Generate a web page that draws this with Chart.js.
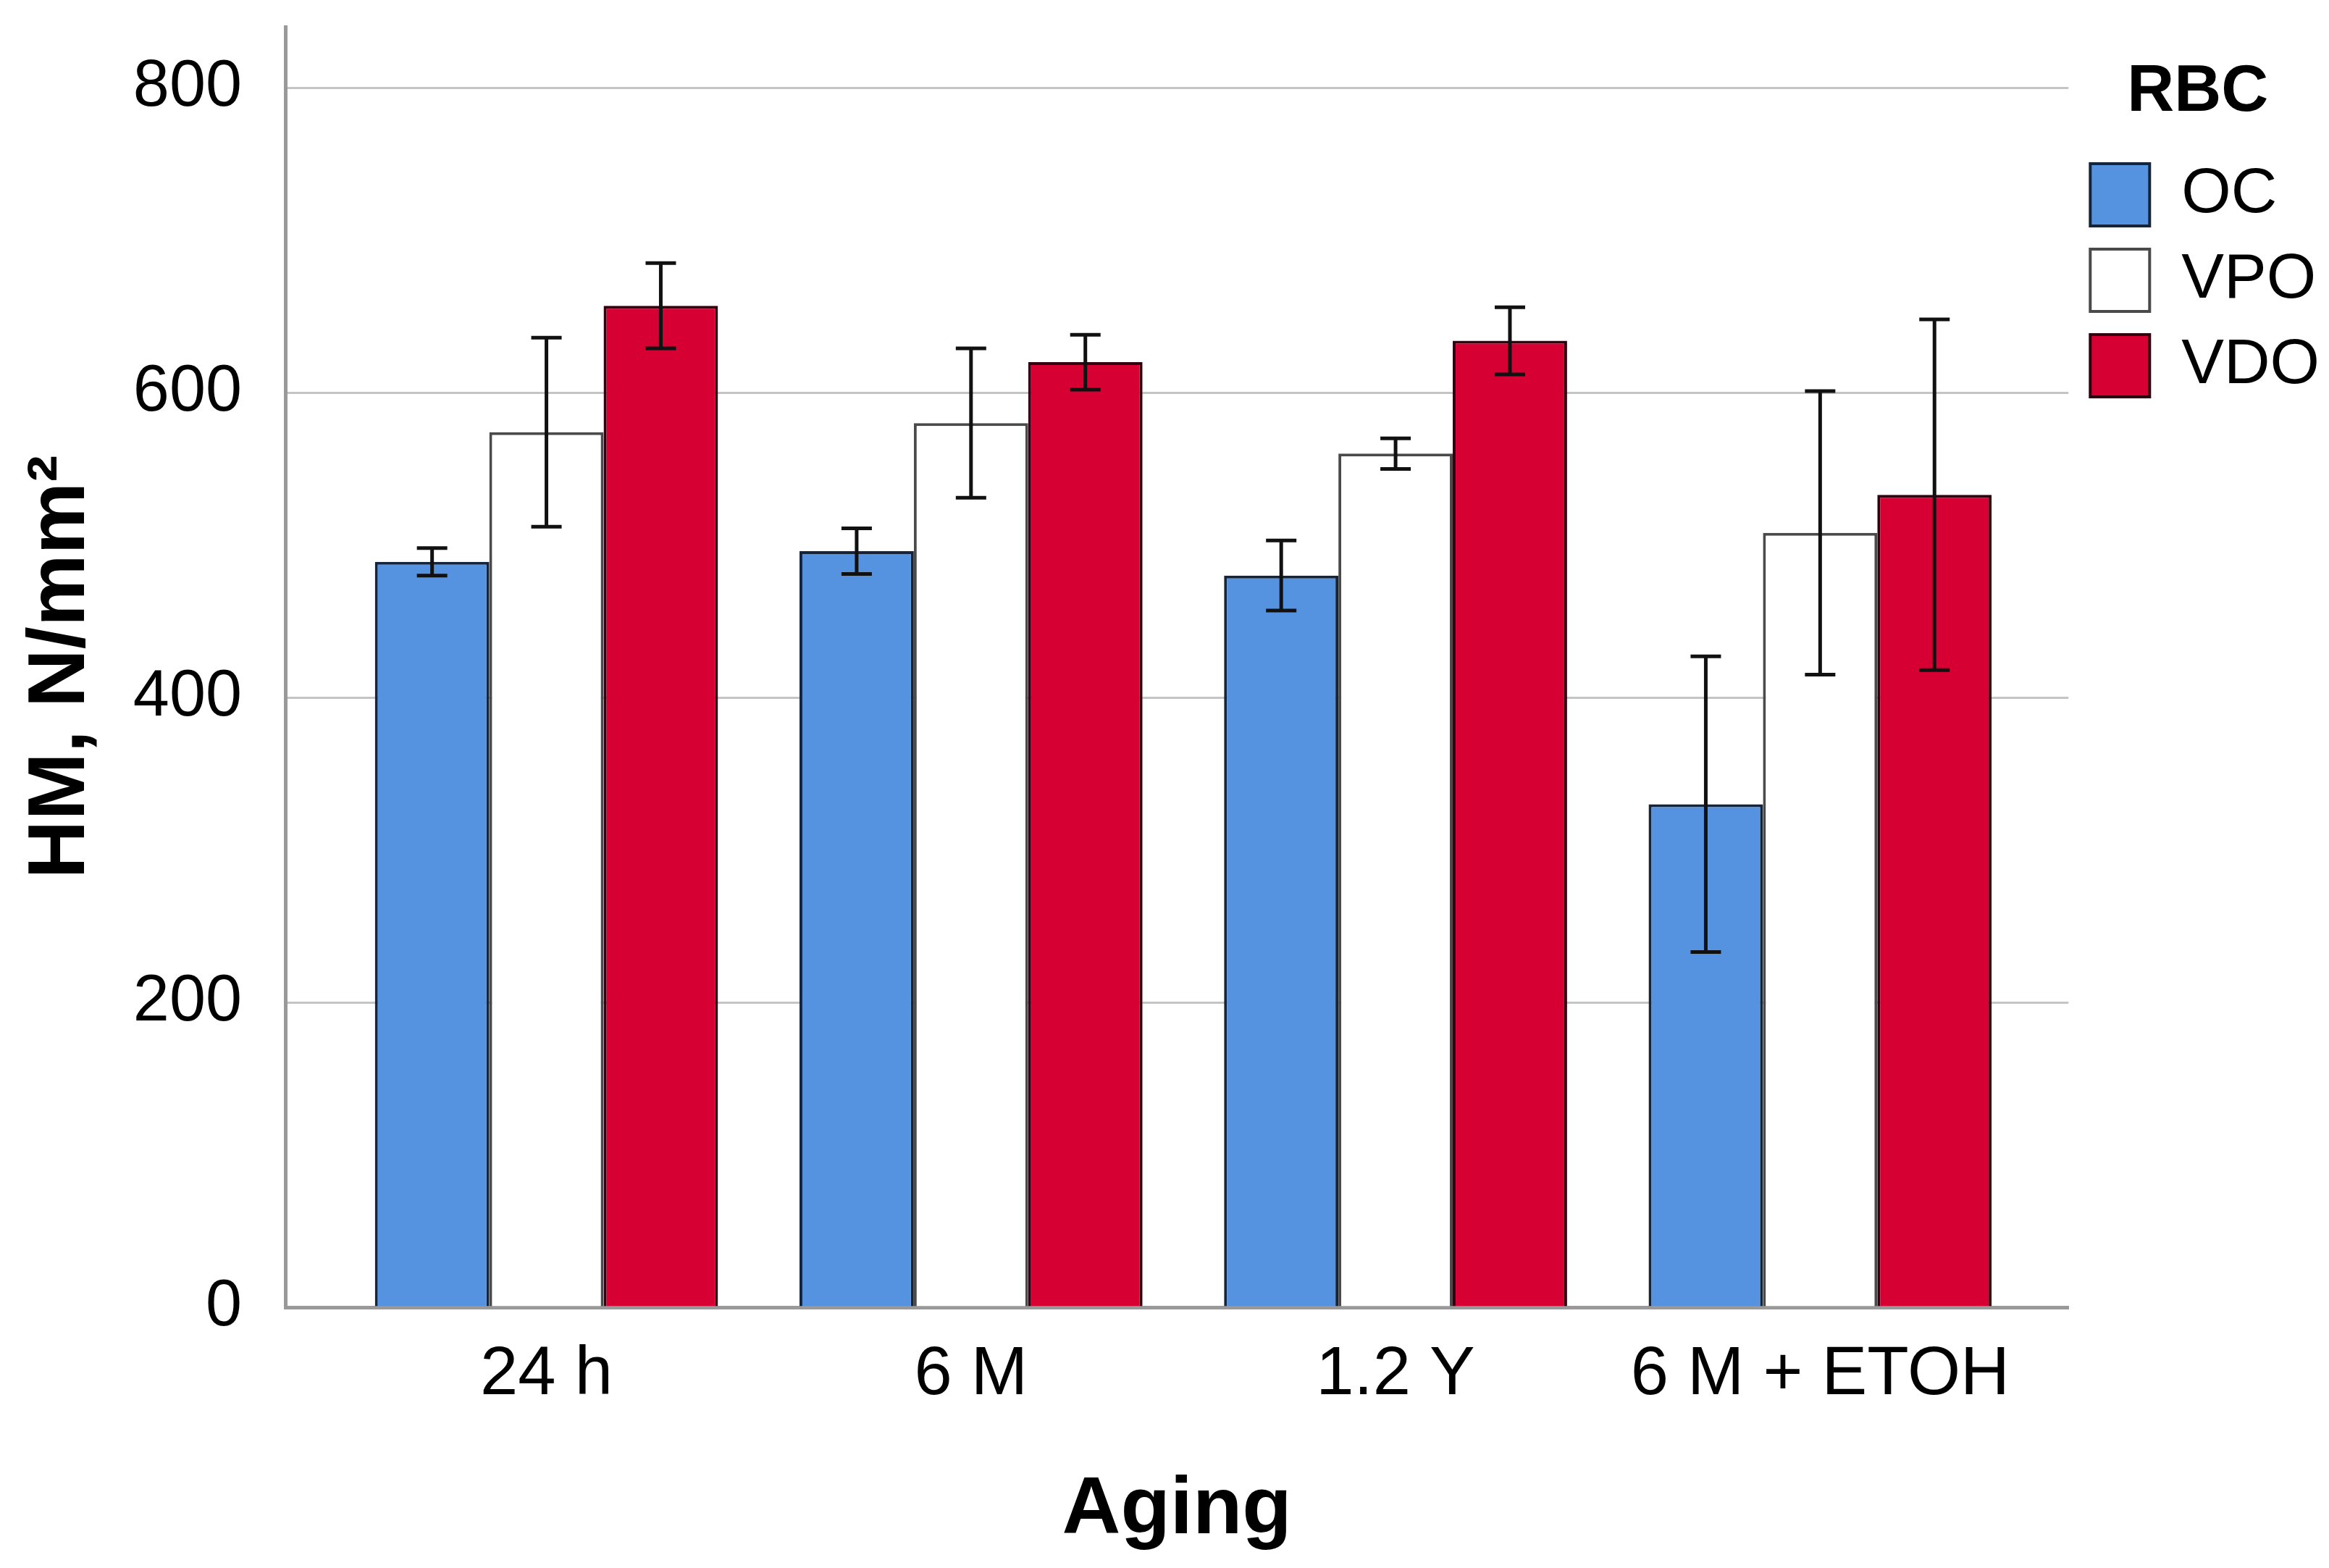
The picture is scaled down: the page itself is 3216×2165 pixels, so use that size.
<!DOCTYPE html>
<html>
<head>
<meta charset="utf-8">
<script src="https://cdn.jsdelivr.net/npm/chart.js@4.4.1/dist/chart.umd.min.js"></script>
<style>
  html, body { margin: 0; padding: 0; background: #fff; }
  canvas { display: block; }
</style>
</head>
<body>
<canvas id="myChart" width="3216" height="2165"></canvas>
<script>
// Data
const categories = ['24 h', '6 M', '1.2 Y', '6 M + ETOH']
const seriesNames = ['OC', 'VPO', 'VDO']
const ocValues = [489, 496, 480, 330]
const vpoValues = [574, 580, 560, 508]
const vdoValues = [657, 620, 634, 533]
const ocErrors = [9, 15, 23, 97]
const vpoErrors = [62, 49, 10, 93]
const vdoErrors = [28, 18, 22, 115]
const yTicks = [0, 200, 400, 600, 800]

const FONT = "'Liberation Sans', Arial, sans-serif"

const toPoints = vals => vals.map((v, i) => ({ x: i, y: v }))

// draws the error bars with the chart's own scales
const errorBars = {
  id: 'errorBars',
  afterDatasetsDraw(chart) {
    const { ctx } = chart
    const yScale = chart.scales.y
    chart.data.datasets.forEach((ds, di) => {
      const meta = chart.getDatasetMeta(di)
      meta.data.forEach((bar, i) => {
        const v = ds.data[i].y
        const e = ds.errors[i]
        const top = yScale.getPixelForValue(v + e)
        const bottom = yScale.getPixelForValue(v - e)
        const cap = 21
        ctx.save()
        ctx.strokeStyle = '#111111'
        ctx.lineWidth = 5
        ctx.beginPath()
        ctx.moveTo(bar.x, top)
        ctx.lineTo(bar.x, bottom)
        ctx.moveTo(bar.x - cap, top)
        ctx.lineTo(bar.x + cap, top)
        ctx.moveTo(bar.x - cap, bottom)
        ctx.lineTo(bar.x + cap, bottom)
        ctx.stroke()
        ctx.restore()
      })
    })
  }
}

const data = {
  datasets: [
    { label: seriesNames[0], data: toPoints(ocValues), errors: ocErrors,
      backgroundColor: '#5592e0', borderColor: '#16243a', borderWidth: 4 },
    { label: seriesNames[1], data: toPoints(vpoValues), errors: vpoErrors,
      backgroundColor: '#ffffff', borderColor: '#4a4a4a', borderWidth: 4 },
    { label: seriesNames[2], data: toPoints(vdoValues), errors: vdoErrors,
      backgroundColor: '#d60032', borderColor: '#300010', borderWidth: 4 }
  ]
}

const config = {
  type: 'bar',
  data,
  options: {
    responsive: false,
    animation: false,
    devicePixelRatio: 1,
    categoryPercentage: 0.808,
    barPercentage: 1.0,
    layout: { padding: { top: 37, left: 10, right: 3, bottom: 0 } },
    plugins: {
      tooltip: { enabled: false },
      legend: {
        position: 'right',
        align: 'start',
        title: {
          display: true,
          text: 'RBC',
          color: '#000',
          font: { family: FONT, size: 90, weight: 'bold' },
          padding: { top: 46, bottom: 4 }
        },
        labels: {
          boxWidth: 82,
          boxHeight: 86,
          padding: 30,
          color: '#000',
          font: { family: FONT, size: 88 }
        }
      }
    },
    scales: {
      x: {
        type: 'linear',
        min: -0.615,
        max: 3.585,
        offset: false,
        afterBuildTicks: scale => { scale.ticks = categories.map((c, i) => ({ value: i })) },
        afterFit: scale => {
          scale.height = 360
          scale.paddingLeft = 0
          scale.paddingRight = 0
        },
        ticks: {
          autoSkip: false,
          maxRotation: 0,
          padding: 38,
          color: '#000',
          font: { family: FONT, size: 94 },
          callback: v => categories[v]
        },
        grid: { display: false, drawTicks: false },
        border: { display: true, color: '#999999', width: 5 },
        title: {
          display: true,
          text: 'Aging',
          color: '#000',
          font: { family: FONT, size: 112, weight: 'bold' },
          padding: { top: 0, bottom: 12 }
        }
      },
      y: {
        min: 0,
        max: 840,
        afterBuildTicks: scale => { scale.ticks = yTicks.map(v => ({ value: v })) },
        afterFit: scale => {
          scale.width = 384
          scale.paddingTop = 0
          scale.paddingBottom = 0
        },
        ticks: {
          padding: 60,
          color: '#000',
          font: { family: FONT, size: 90 }
        },
        grid: { color: '#c4c4c4', lineWidth: 3, drawTicks: false },
        border: { display: true, color: '#999999', width: 5 },
        title: {
          display: true,
          text: 'HM, N/mm²',
          color: '#000',
          font: { family: FONT, size: 112, weight: 'bold' },
          padding: { top: 8, bottom: 0 }
        }
      }
    }
  },
  plugins: [errorBars]
}

const myChart = new Chart(document.getElementById('myChart'), config)
</script>
</body>
</html>
